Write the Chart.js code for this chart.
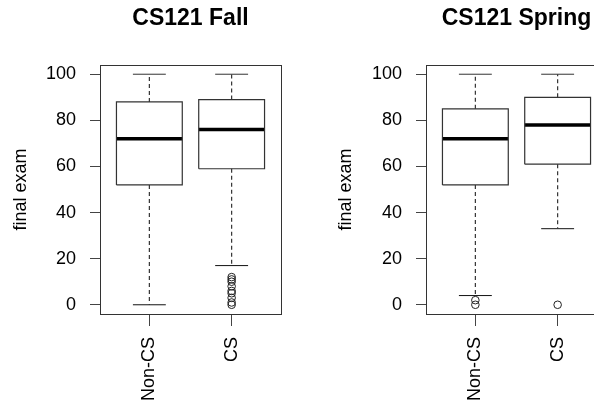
<!DOCTYPE html>
<html><head><meta charset="utf-8">
<script src="https://cdn.jsdelivr.net/npm/chart.js@4/dist/chart.umd.min.js"></script>
<style>
html,body{margin:0;padding:0;background:#fff;overflow:hidden;width:594px;height:408px;}
#wrap{position:relative;width:652px;height:408px;}
canvas{position:absolute;top:0;}
#c1{left:0;} #c2{left:326px;}
</style></head>
<body><div id="wrap"><canvas id="c1" width="326" height="408"></canvas><canvas id="c2" width="326" height="408"></canvas></div>
<script>
// ---- data ----
const categories = ["Non-CS", "CS"];
const yTicks = [0, 20, 40, 60, 80, 100];

const fallTitle = "CS121 Fall";
const fallMin    = [0, 17];
const fallQ1     = [52, 59];
const fallMedian = [72, 76];
const fallQ3     = [88, 89];
const fallMax    = [100, 100];
const fallOutliers = [[], [0, 1, 3, 5, 6, 8, 10, 11, 12]];

const springTitle = "CS121 Spring";
const springMin    = [4, 33];
const springQ1     = [52, 61];
const springMedian = [72, 78];
const springQ3     = [85, 90];
const springMax    = [100, 100];
const springOutliers = [[0, 2], [0]];

// ---- rendering ----
Chart.defaults.font.family = "'Liberation Sans', Arial, sans-serif";
Chart.defaults.color = '#000';

const frame = {
  id: 'frame',
  afterDatasetsDraw(chart) {
    const a = chart.chartArea, ctx = chart.ctx;
    ctx.save();
    ctx.strokeStyle = '#333';
    ctx.lineWidth = 1;
    ctx.strokeRect(Math.round(a.left) + 0.5, Math.round(a.top) + 0.5,
                   Math.round(a.right - a.left), Math.round(a.bottom - a.top));
    ctx.restore();
  }
};

function seg(points, opts) {
  return Object.assign({
    type: 'line', data: points, showLine: true, pointRadius: 0,
    borderColor: '#333', borderWidth: 1, fill: false, tension: 0
  }, opts);
}

function buildDatasets(mins, q1, med, q3, maxs, outs) {
  const ds = [];
  const half = 0.4, cap = 0.2;
  categories.forEach((c, i) => {
    const x = i + 1;
    ds.push(seg([{x:x, y:q3[i]}, {x:x, y:maxs[i]}], {borderDash:[4,3], borderColor:'#333', borderWidth:1.2}));
    ds.push(seg([{x:x, y:q1[i]}, {x:x, y:mins[i]}], {borderDash:[4,3], borderColor:'#333', borderWidth:1.2}));
    ds.push(seg([{x:x-cap, y:maxs[i]}, {x:x+cap, y:maxs[i]}], {borderColor:'#333'}));
    ds.push(seg([{x:x-cap, y:mins[i]}, {x:x+cap, y:mins[i]}], {borderColor:'#111'}));
    ds.push(seg([{x:x-half, y:q1[i]}, {x:x+half, y:q1[i]}, {x:x+half, y:q3[i]},
                 {x:x-half, y:q3[i]}, {x:x-half, y:q1[i]}], {borderColor:'#333', borderWidth:1.2}));
    ds.push(seg([{x:x-half, y:med[i]}, {x:x+half, y:med[i]}], {borderColor:'#000', borderWidth:3.5}));
    if (outs[i].length) {
      ds.push({type:'scatter', data: outs[i].map(v => ({x:x, y:v})), showLine:false,
               pointRadius:3.8, pointStyle:'circle', borderColor:'#222', borderWidth:1,
               backgroundColor:'rgba(0,0,0,0)'});
    }
  });
  return ds;
}

function makeChart(id, title, mins, q1, med, q3, maxs, outs, yTitlePad) {
  return new Chart(document.getElementById(id), {
    type: 'scatter',
    data: { datasets: buildDatasets(mins, q1, med, q3, maxs, outs) },
    plugins: [frame],
    options: {
      responsive: false, animation: false, devicePixelRatio: 1,
      layout: { padding: { left: 0, right: 45, top: 0, bottom: 0 } },
      plugins: { legend: {display:false}, tooltip: {enabled:false}, title: {display:false} },
      scales: {
        x: {
          type: 'linear', position: 'bottom', min: 0.4, max: 2.6,
          afterBuildTicks: s => { s.ticks = categories.map((c, i) => ({value: i + 1})); },
          afterFit: s => { s.height = 94; },
          ticks: { callback: v => categories[v - 1], minRotation: 90, maxRotation: 90,
                   autoSkip: false, padding: 11, font: {size: 18}, color: '#000' },
          grid: { drawOnChartArea: false, drawTicks: true, tickLength: 12, color: '#444', lineWidth: 1 },
          border: { display: false }
        },
        top: {
          type: 'linear', position: 'top', min: 0.4, max: 2.6,
          afterFit: s => { s.height = 65; },
          ticks: { display: false },
          grid: { display: false, drawTicks: false },
          border: { display: false },
          title: { display: true, text: title, font: {size: 23, weight: 'bold'}, color: '#000',
                   padding: {top: 5, bottom: 0} }
        },
        y: {
          type: 'linear', position: 'left', min: -4, max: 104,
          afterBuildTicks: s => { s.ticks = yTicks.map(v => ({value: v})); },
          afterFit: s => { s.width = 100; },
          ticks: { padding: 14, font: {size: 18}, color: '#000' },
          grid: { drawOnChartArea: false, drawTicks: true, tickLength: 10, color: '#444', lineWidth: 1 },
          border: { display: false },
          title: { display: true, text: 'final exam', font: {size: 18}, color: '#000',
                   padding: {top: yTitlePad, bottom: 0} }
        }
      }
    }
  });
}

makeChart('c1', fallTitle, fallMin, fallQ1, fallMedian, fallQ3, fallMax, fallOutliers, 10);
makeChart('c2', springTitle, springMin, springQ1, springMedian, springQ3, springMax, springOutliers, 9);
</script>
</body></html>
